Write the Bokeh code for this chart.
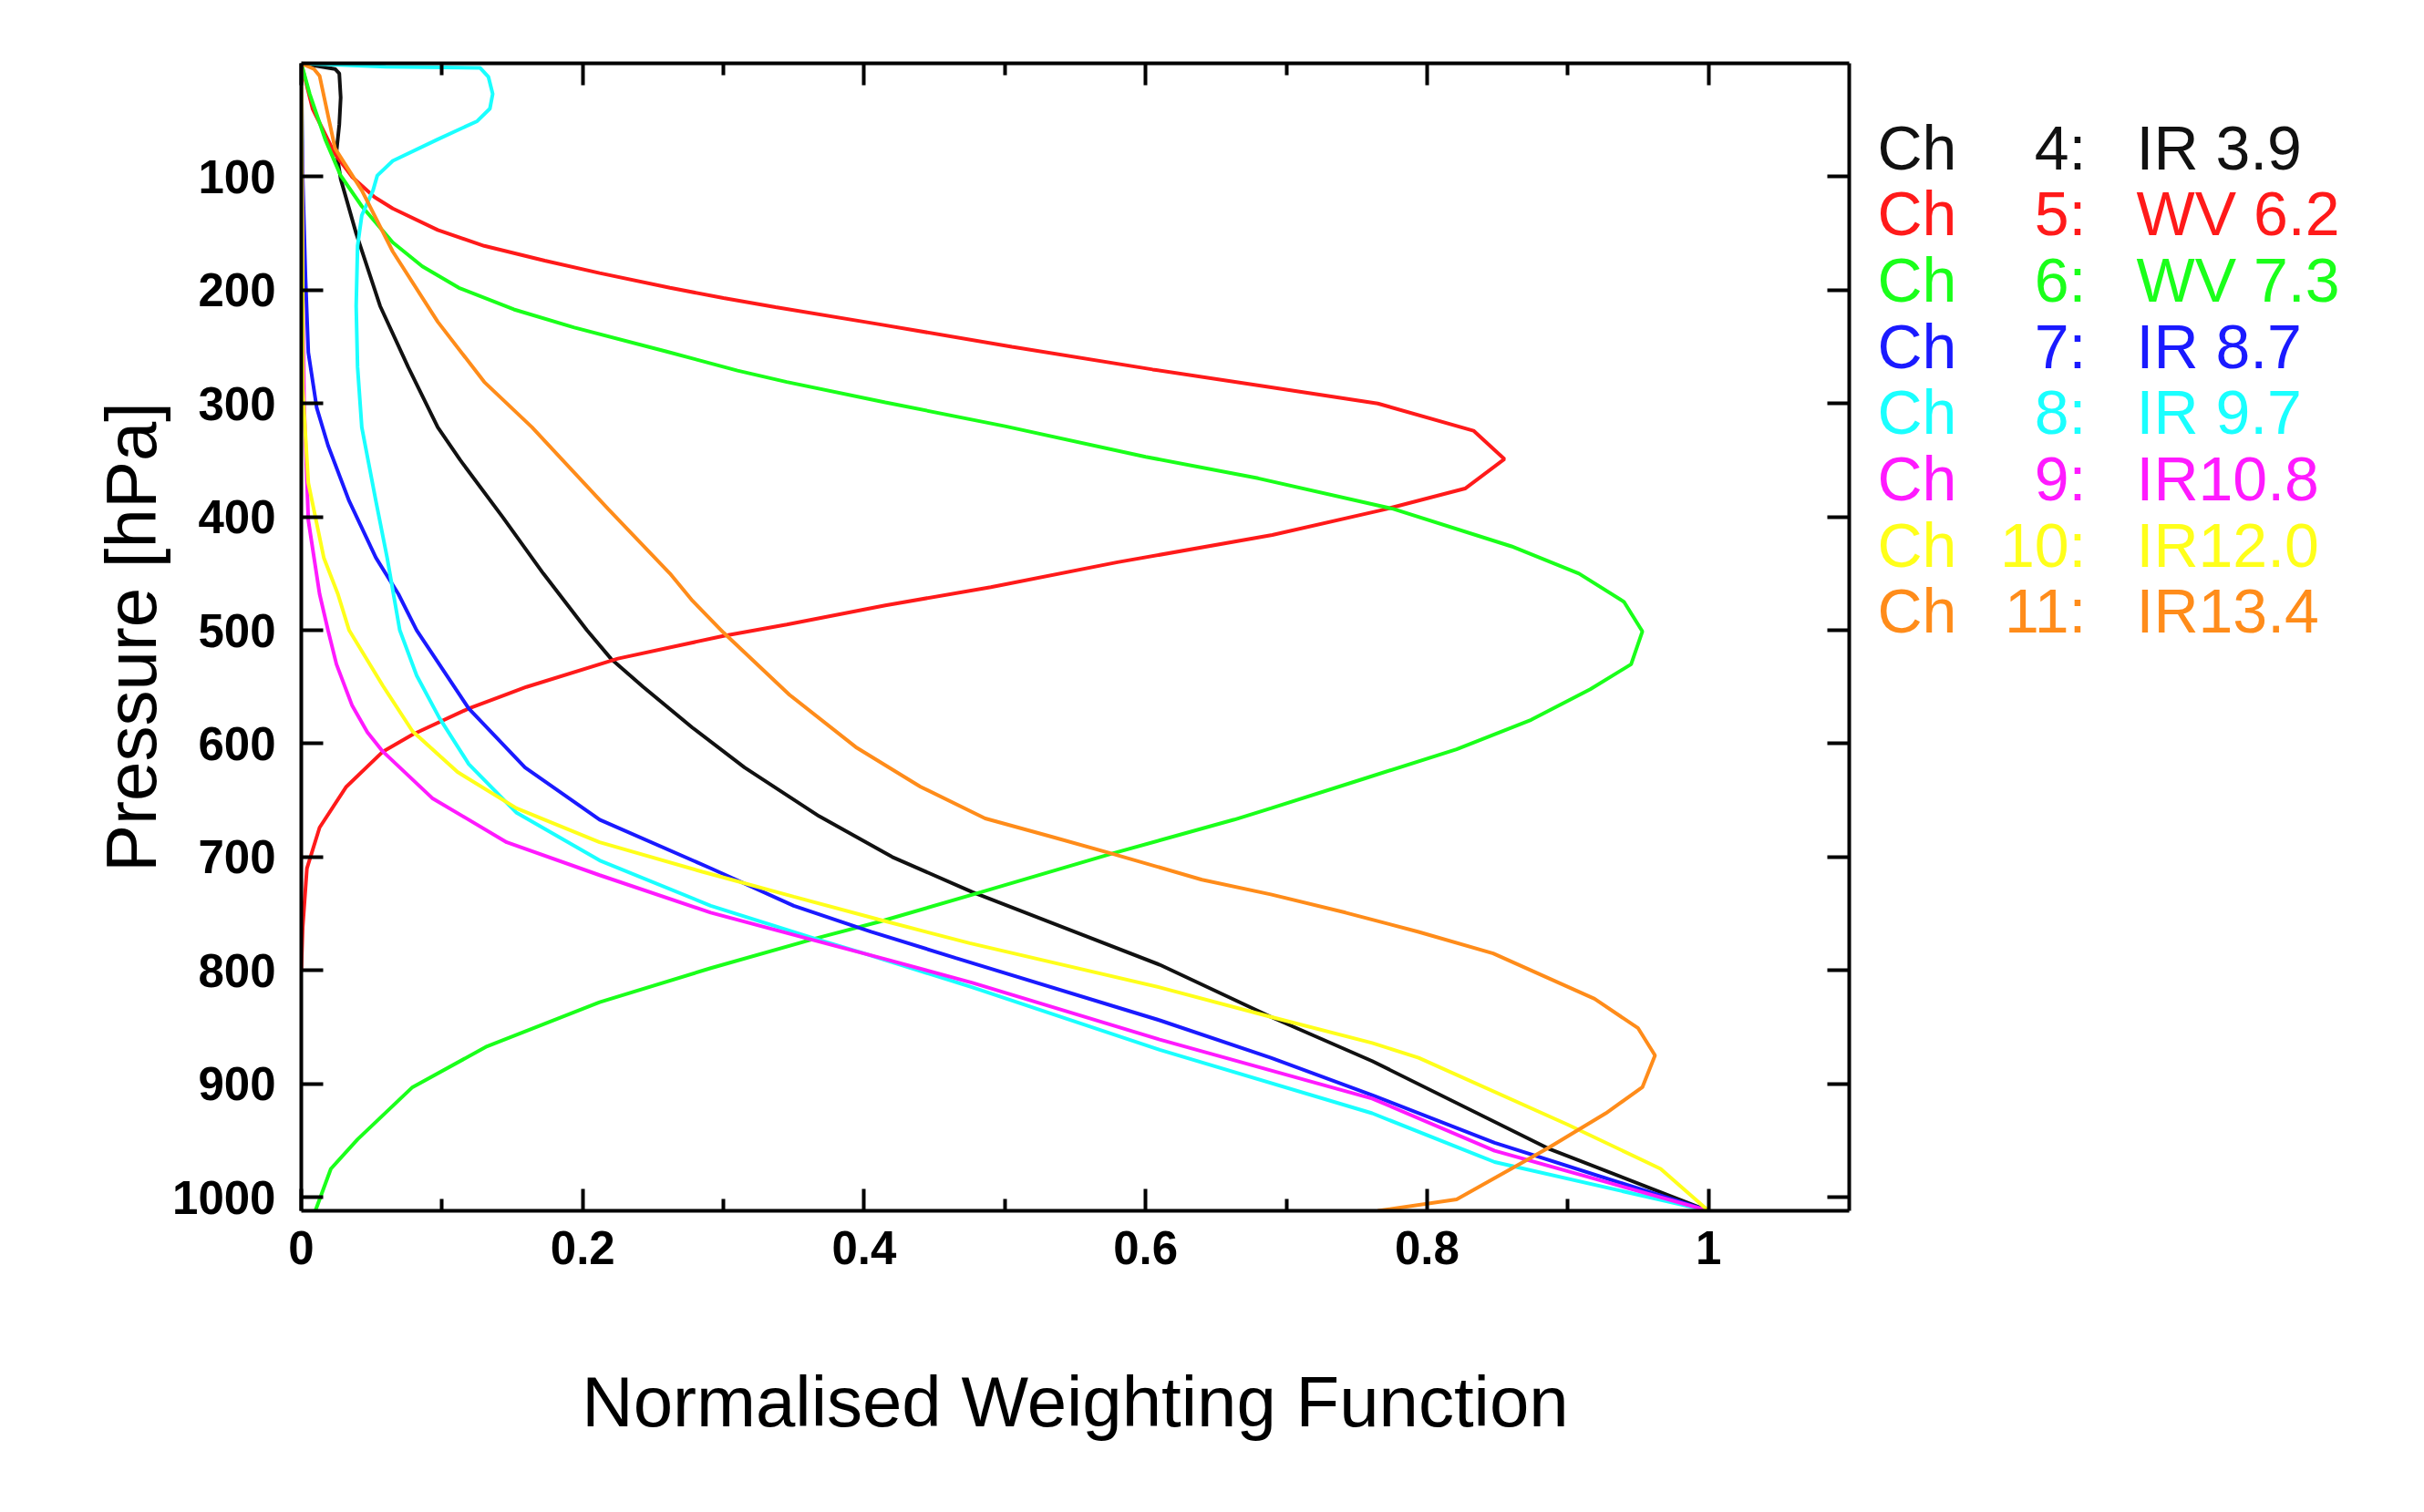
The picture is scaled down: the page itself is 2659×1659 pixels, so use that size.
from bokeh.plotting import figure
from bokeh.models import Range1d, FixedTicker, LinearAxis, CustomJSTickFormatter
from bokeh.layouts import row
from bokeh.embed import file_html
from bokeh.resources import INLINE
from bokeh.core.properties import value

FONT = "Liberation Sans"

# ---------------- data ----------------
channels = ["4", "5", "6", "7", "8", "9", "10", "11"]
bands = ["IR 3.9", "WV 6.2", "WV 7.3", "IR 8.7", "IR 9.7", "IR10.8", "IR12.0", "IR13.4"]
colors = ["#111111", "#ff1a1a", "#1aff1a", "#1a1aff", "#1affff", "#ff1aff", "#ffff1a", "#ff8c1a"]

p_ch4 = [0, 5, 9, 30, 54, 78, 102, 150, 214, 268, 321, 350, 400, 450, 500, 525, 550, 586, 621, 664, 700, 731, 795, 841, 880, 957, 1012]
w_ch4 = [0, 0.024, 0.027, 0.028, 0.027, 0.025, 0.028, 0.039, 0.056, 0.076, 0.097, 0.113, 0.143, 0.172, 0.203, 0.220, 0.243, 0.278, 0.315, 0.368, 0.420, 0.477, 0.610, 0.689, 0.761, 0.886, 1.0]

p_ch5 = [0, 40, 80, 100, 118, 128, 147, 161, 174, 185, 198, 207, 215, 230, 250, 270, 285, 300, 324, 349, 375, 394, 416, 440, 462, 478, 495, 505, 525, 550, 569, 592, 607, 638, 674, 710, 762, 800]
w_ch5 = [0, 0.008, 0.024, 0.036, 0.052, 0.065, 0.097, 0.130, 0.173, 0.212, 0.262, 0.300, 0.337, 0.410, 0.505, 0.605, 0.685, 0.765, 0.833, 0.855, 0.827, 0.768, 0.690, 0.580, 0.490, 0.415, 0.345, 0.300, 0.225, 0.160, 0.119, 0.079, 0.058, 0.032, 0.013, 0.004, 0.001, 0]

p_ch6 = [0, 27, 67, 99, 126, 158, 179, 198, 217, 233, 254, 271, 281, 299, 320, 347, 366, 393, 426, 450, 475, 501, 530, 552, 579, 605, 631, 657, 667, 697, 731, 757, 772, 798, 828, 867, 903, 949, 975, 1012]
w_ch6 = [0, 0.006, 0.017, 0.028, 0.043, 0.065, 0.086, 0.112, 0.151, 0.194, 0.259, 0.310, 0.345, 0.415, 0.500, 0.600, 0.680, 0.776, 0.860, 0.908, 0.940, 0.953, 0.945, 0.916, 0.874, 0.821, 0.755, 0.689, 0.663, 0.576, 0.483, 0.411, 0.365, 0.291, 0.212, 0.132, 0.079, 0.040, 0.021, 0.010]

p_ch7 = [0, 100, 189, 255, 304, 337, 386, 436, 468, 500, 569, 621, 667, 710, 743, 766, 789, 844, 877, 910, 952, 1012]
w_ch7 = [0, 0.001, 0.003, 0.005, 0.011, 0.019, 0.034, 0.053, 0.069, 0.082, 0.119, 0.159, 0.212, 0.291, 0.350, 0.405, 0.465, 0.610, 0.689, 0.761, 0.848, 1.0]

p_ch8 = [0, 3, 4, 12, 27, 40, 51, 67, 86, 99, 112, 134, 161, 214, 268, 321, 386, 436, 500, 540, 577, 618, 661, 703, 743, 772, 785, 815, 870, 926, 969, 1012]
w_ch8 = [0, 0.060, 0.127, 0.133, 0.136, 0.134, 0.125, 0.097, 0.065, 0.054, 0.051, 0.043, 0.040, 0.039, 0.040, 0.043, 0.053, 0.061, 0.070, 0.082, 0.098, 0.119, 0.153, 0.212, 0.291, 0.365, 0.400, 0.477, 0.610, 0.761, 0.848, 1.0]

p_ch9 = [0, 200, 300, 403, 468, 500, 530, 566, 590, 607, 648, 687, 716, 749, 772, 790, 811, 861, 913, 959, 1012]
w_ch9 = [0, 0.001, 0.002, 0.005, 0.013, 0.019, 0.025, 0.036, 0.047, 0.058, 0.093, 0.146, 0.212, 0.291, 0.360, 0.415, 0.477, 0.610, 0.761, 0.848, 1.0]

p_ch10 = [0, 200, 287, 370, 436, 468, 500, 549, 589, 625, 657, 687, 713, 735, 755, 776, 815, 841, 864, 877, 936, 975, 1012]
w_ch10 = [0, 0.001, 0.001, 0.005, 0.016, 0.026, 0.034, 0.058, 0.079, 0.111, 0.153, 0.212, 0.285, 0.350, 0.410, 0.475, 0.610, 0.689, 0.761, 0.794, 0.900, 0.966, 1.0]

p_ch11 = [0, 5, 11, 75, 112, 166, 228, 281, 321, 393, 450, 474, 502, 557, 603, 638, 666, 682, 697, 720, 733, 749, 766, 785, 825, 851, 875, 903, 926, 956, 1002, 1012]
w_ch11 = [0, 0.009, 0.013, 0.024, 0.043, 0.065, 0.097, 0.130, 0.164, 0.218, 0.262, 0.278, 0.300, 0.347, 0.394, 0.440, 0.486, 0.533, 0.576, 0.640, 0.689, 0.742, 0.794, 0.847, 0.919, 0.950, 0.962, 0.953, 0.927, 0.887, 0.821, 0.765]

x_major = [0, 0.2, 0.4, 0.6, 0.8, 1.0]
x_minor = [0.1, 0.3, 0.5, 0.7, 0.9]
y_major = [100, 200, 300, 400, 500, 600, 700, 800, 900, 1000]

series = [(w_ch4, p_ch4), (w_ch5, p_ch5), (w_ch6, p_ch6), (w_ch7, p_ch7),
          (w_ch8, p_ch8), (w_ch9, p_ch9), (w_ch10, p_ch10), (w_ch11, p_ch11)]

# ---------------- main plot ----------------
W_MAIN, H = 2047, 1648
FRAME_LEFT, FRAME_RIGHT = 330, 2028
FRAME_TOP, FRAME_BOTTOM = 69, 1328
p = figure(width=W_MAIN, height=H, x_range=Range1d(0, 1.1), y_range=Range1d(1012, 0),
           output_backend="svg", toolbar_location=None,
           min_border_left=FRAME_LEFT, min_border_right=W_MAIN - FRAME_RIGHT,
           min_border_top=FRAME_TOP, min_border_bottom=H - FRAME_BOTTOM)
p.xgrid.visible = False
p.ygrid.visible = False
p.outline_line_color = None
p.background_fill_color = "white"
p.border_fill_color = "white"

for (w, pr), c in zip(series, colors):
    p.line(w, pr, line_color=c, line_width=4)

xt = FixedTicker(ticks=x_major, minor_ticks=x_minor)
yt = FixedTicker(ticks=y_major, minor_ticks=[])


def style(ax):
    ax.axis_line_width = 4
    ax.axis_line_color = "black"
    ax.major_tick_line_width = 4
    ax.minor_tick_line_width = 4
    ax.major_tick_line_color = "black"
    ax.minor_tick_line_color = "black"
    ax.major_tick_in = 24
    ax.major_tick_out = 0
    ax.minor_tick_in = 13
    ax.minor_tick_out = 0
    ax.major_label_text_font = FONT
    ax.major_label_text_font_style = "bold"
    ax.major_label_text_font_size = "51px"
    ax.major_label_text_color = "black"
    ax.axis_label_text_font = FONT
    ax.axis_label_text_font_style = "normal"
    ax.axis_label_text_font_size = "78px"
    ax.axis_label_text_color = "black"


xa = p.xaxis[0]
xa.ticker = xt
xa.formatter = CustomJSTickFormatter(code="return tick.toString();")
style(xa)
xa.major_label_standoff = 22
xa.axis_label = "Normalised Weighting Function"
xa.axis_label_standoff = 104

ya = p.yaxis[0]
ya.ticker = yt
style(ya)
ya.major_label_standoff = 28
ya.axis_label = "Pressure [hPa]"
ya.axis_label_standoff = -2

top = LinearAxis(ticker=xt)
style(top)
top.major_label_text_font_size = "1px"
top.major_label_text_color = None
top.major_label_standoff = 0
p.add_layout(top, "above")

right = LinearAxis(ticker=yt)
style(right)
right.major_label_text_font_size = "1px"
right.major_label_text_color = None
right.major_label_standoff = 0
p.add_layout(right, "right")

# ---------------- legend panel (frame aligned with the main frame; 1 unit = 1 px) ----------------
leg = figure(width=600, height=H, x_range=Range1d(0, 600), y_range=Range1d(FRAME_BOTTOM, FRAME_TOP),
             output_backend="svg", toolbar_location=None, min_border=0,
             min_border_top=FRAME_TOP, min_border_bottom=H - FRAME_BOTTOM,
             x_axis_type=None, y_axis_type=None)
leg.xgrid.visible = False
leg.ygrid.visible = False
leg.outline_line_color = None

ys = [161 + 72.7 * i for i in range(len(channels))]
common = dict(text_font=value(FONT), text_font_size="68px", text_baseline="middle")
leg.text(x=12, y=ys, text=["Ch"] * len(channels), text_color=colors, text_align="left", **common)
leg.text(x=241, y=ys, text=[c + ":" for c in channels], text_color=colors, text_align="right", **common)
leg.text(x=296, y=ys, text=bands, text_color=colors, text_align="left", **common)

layout = row(p, leg)
open("out.html", "w").write(file_html(layout, INLINE))
